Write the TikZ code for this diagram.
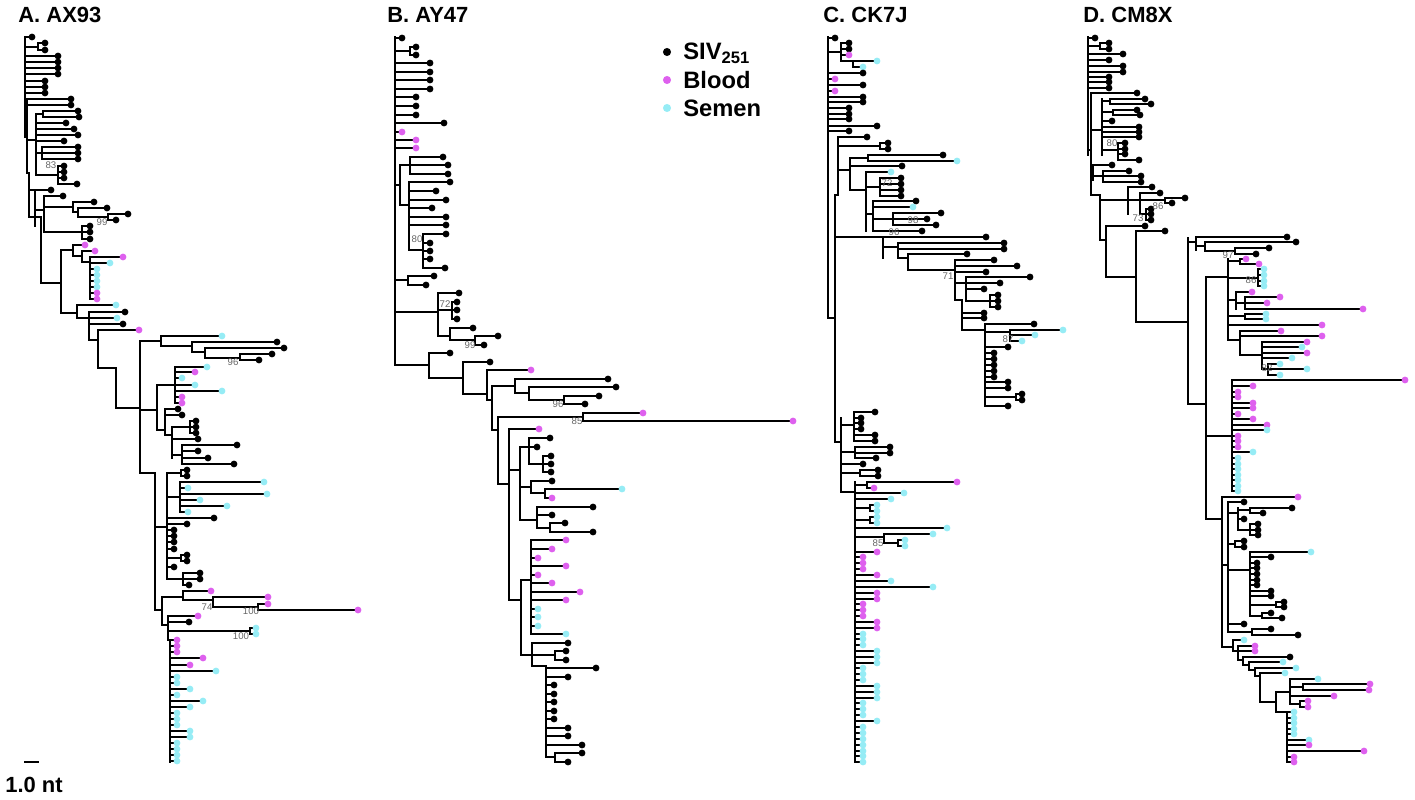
\documentclass[tikz,border=0pt]{standalone}
\usepackage{fontspec}
\setmainfont{Liberation Sans}
\definecolor{siv}{RGB}{0,0,0}
\definecolor{blood}{RGB}{222,96,238}
\definecolor{semen}{RGB}{150,236,245}
\newcommand{\drawtips}[1]{\foreach \px/\tx/\ty/\col in {#1}{\draw[branch] (\px,\ty) -- (\tx-4,\ty); \fill[\col] (\tx,\ty) circle (1.95pt);}}
\newcommand{\drawvert}[1]{\foreach \vx/\va/\vb in {#1}{\draw[branch] (\vx,\va) -- (\vx,\vb);}}
\newcommand{\drawhorz}[1]{\foreach \ha/\hb/\hy in {#1}{\draw[branch] (\ha,\hy) -- (\hb,\hy);}}
\begin{document}
\begin{tikzpicture}[x=0.02cm, y=-0.02cm,
  branch/.style={line width=0.75pt, line cap=rect},
  boot/.style={font=\fontsize{5.5}{5.5}\selectfont, text=black!60, inner sep=0pt},
  title/.style={font=\fontsize{12.5}{14}\selectfont\bfseries, anchor=west, inner sep=0pt},
  legtext/.style={font=\fontsize{13.5}{15}\selectfont\bfseries, anchor=west, inner sep=0pt}]
\useasboundingbox (0,0) rectangle (1415,800);

\node[title] (ta) at (18,15) {A. AX93};
\node[title] (tb) at (387,15) {B. AY47};
\node[title] (tc) at (823,15) {C. CK7J};
\node[title] (td) at (1083,15) {D. CM8X};

% legend
\fill[siv] (667,52) circle (2.3pt);
\fill[blood] (667,80) circle (2.3pt);
\fill[semen] (667,108) circle (2.3pt);
\node[legtext] (lsiv) at (683,53) {SIV\textsubscript{251}};
\node[legtext] (lblood) at (683,80) {Blood};
\node[legtext] (lsemen) at (683,108) {Semen};

% scale
\draw[branch] (25,762) -- (38,762);
\node[font=\fontsize{12.5}{14}\selectfont\bfseries, anchor=west, inner sep=0pt] (scale) at (5,785) {1.0 nt};

% tree A
\drawvert{25/37/137, 38/43/50, 27/99/173, 36/114/175, 43/111/117, 42/147/159, 58/166/184, 29/173/217, 35/190/226, 44/196/232, 73/202/212, 78/208/217, 108/214/220, 82/226/239, 41/217/283, 61/250/313, 73/245/256, 82/251/262, 90/257/299, 77/305/318, 89/312/340, 98/330/368, 116/368/408, 140/341/473, 161/336/346, 192/342/352, 205/348/358, 240/354/360, 157/385/430, 175/367/403, 165/409/435, 172/427/458, 190/421/433, 182/445/464, 155/473/610, 167/473/579, 181/470/476, 180/482/512, 181/555/561, 183/573/585, 162/597/625, 183/591/600, 213/597/607, 258/604/610, 168/616/640, 250/628/634, 170/640/762}
\drawhorz{25/27/137, 25/38/47, 27/36/140, 27/29/173, 36/43/114, 36/42/153, 36/58/175, 29/35/190, 29/41/217, 35/44/210, 44/73/207, 73/78/212, 78/108/217, 44/82/232, 41/61/283, 61/73/250, 73/82/256, 82/90/262, 61/77/313, 77/89/318, 89/98/340, 98/116/368, 116/140/408, 140/161/341, 161/192/346, 192/205/352, 205/240/358, 140/157/410, 157/175/385, 157/165/430, 165/172/435, 172/190/427, 172/182/455, 140/155/473, 155/167/527, 155/162/610, 167/181/473, 167/180/497, 167/181/558, 167/183/579, 162/183/597, 183/213/600, 213/258/607, 162/168/625, 168/250/631, 168/170/640}
\drawtips{25/32/37/siv, 38/45/43/siv, 38/45/50/siv, 25/58/56/siv, 25/58/62/siv, 25/58/68/siv, 25/58/74/siv, 25/45/81/siv, 25/45/87/siv, 25/45/93/siv,
  27/71/99/siv, 27/71/105/siv, 43/78/111/siv, 43/79/117/siv, 36/66/123/siv, 36/74/129/siv, 36/78/135/siv, 36/64/141/siv, 42/78/147/siv, 42/78/153/siv, 42/78/159/siv, 58/64/166/siv, 58/64/172/siv, 58/64/178/siv, 58/77/184/siv,
  35/51/190/siv, 44/63/196/siv, 73/94/202/siv, 78/107/208/siv, 108/128/214/siv, 108/116/220/siv, 82/90/226/siv, 82/90/232/siv, 82/90/239/siv,
  73/85/245/blood, 82/95/251/blood, 90/123/257/blood, 90/110/263/semen, 90/97/269/semen, 90/97/275/semen, 90/97/281/semen, 90/97/287/semen, 90/97/293/blood, 90/97/299/blood,
  77/116/305/semen, 89/125/312/siv, 89/117/318/semen, 89/123/324/siv, 98/139/330/blood,
  161/222/336/semen, 192/277/342/siv, 205/284/348/siv, 240/272/354/siv, 240/259/360/siv,
  175/207/367/semen, 175/195/372/blood, 175/182/378/semen, 175/195/385/semen, 175/222/391/semen, 175/182/397/blood, 175/182/403/blood,
  165/178/409/siv, 165/182/415/siv, 190/196/421/siv, 190/196/427/siv, 190/196/433/siv, 172/198/439/siv, 182/237/445/siv, 182/198/451/siv, 182/208/458/siv, 182/234/464/siv,
  181/187/470/siv, 181/187/476/siv, 180/264/482/semen, 180/188/488/semen, 180/267/494/semen, 180/200/500/semen, 180/227/506/semen, 180/188/512/semen, 167/214/518/siv, 167/187/524/siv, 167/174/530/siv, 167/174/536/siv, 167/174/542/siv, 167/174/549/siv, 181/187/555/siv, 181/187/561/siv, 167/174/567/siv, 183/200/573/siv, 183/200/579/siv, 183/189/585/siv,
  183/211/591/blood, 213/268/597/blood, 258/268/604/blood, 258/358/610/blood,
  168/198/616/blood, 168/189/622/siv, 250/256/628/semen, 250/256/634/semen,
  170/177/640/blood, 170/177/646/blood, 170/177/652/blood, 170/203/658/blood, 170/190/665/blood, 170/216/671/semen, 170/177/677/semen, 170/177/683/semen, 170/190/689/semen, 170/177/695/semen, 170/203/701/semen, 170/190/707/semen, 170/177/713/semen, 170/177/719/semen, 170/177/725/semen, 170/190/731/semen, 170/190/737/semen, 170/177/743/semen, 170/177/749/semen, 170/177/755/semen, 170/177/761/semen}
\node[boot] (ba1) at (51,165) {83};
\node[boot] (ba2) at (102,222) {99};
\node[boot] (ba3) at (233,362) {96};
\node[boot] (ba4) at (207,607) {74};
\node[boot] (ba5) at (251,611) {100};
\node[boot] (ba6) at (241,636) {100};

% tree B
\drawvert{395/37/365, 410/47/55, 400/165/205, 410/157/174, 409/182/250, 423/234/268, 408/276/285, 438/293/336, 452/302/319, 450/328/340, 475/336/345, 429/353/378, 463/362/394, 487/370/400, 492/386/430, 515/379/393, 529/387/400, 564/396/404, 498/417/484, 583/413/421, 509/429/600, 520/447/520, 529/438/464, 543/456/472, 531/481/493, 545/489/498, 537/507/528, 550/523/532, 521/580/655, 531/540/634, 532/643/666, 555/651/660, 546/666/757, 555/753/762}
\drawhorz{395/410/51, 395/400/185, 400/410/165, 400/409/205, 409/423/250, 395/408/280, 395/438/312, 438/452/310, 438/450/336, 450/475/340, 395/429/365, 429/463/378, 463/487/394, 487/492/400, 492/515/386, 515/529/393, 529/564/400, 492/498/430, 498/583/417, 498/509/484, 509/520/470, 520/529/447, 529/543/464, 520/531/487, 531/545/493, 520/537/520, 537/550/528, 509/521/600, 521/531/580, 521/532/655, 532/555/655, 532/546/666, 546/555/757}
\drawtips{395/402/38/siv, 410/416/47/siv, 410/416/55/siv, 395/430/63/siv, 395/430/72/siv, 395/430/80/siv, 395/430/89/siv, 395/416/97/siv, 395/416/106/siv, 395/416/115/siv, 395/444/123/siv, 395/402/132/blood, 395/416/140/blood, 395/416/148/blood,
  410/443/157/siv, 410/448/165/siv, 410/448/174/siv, 409/450/182/siv, 409/436/191/siv, 409/446/200/siv, 409/432/208/siv, 409/446/217/siv, 409/446/225/siv, 423/446/234/siv, 423/430/243/siv, 423/430/251/siv, 423/430/259/siv, 423/445/268/siv,
  408/434/276/siv, 408/426/285/siv,
  438/459/293/siv, 452/457/302/siv, 452/457/310/siv, 452/457/319/siv, 450/473/328/siv, 475/498/336/siv, 475/484/345/siv,
  429/450/353/siv, 463/490/362/siv, 487/531/370/blood, 515/608/379/siv, 529/616/387/siv, 564/599/396/siv, 564/585/404/siv, 583/643/413/blood, 583/793/421/blood,
  509/539/429/blood, 529/550/438/siv, 529/537/447/siv, 543/551/456/siv, 543/551/464/siv, 543/551/472/siv, 531/552/481/siv, 545/622/489/semen, 545/552/498/blood, 537/593/507/siv, 537/552/515/siv, 550/565/523/siv, 550/593/532/siv,
  531/566/540/blood, 531/552/549/blood, 531/538/558/blood, 531/566/566/blood, 531/538/575/blood, 531/552/583/blood, 531/580/592/blood, 531/566/600/blood, 531/538/609/semen, 531/538/617/semen, 531/538/626/semen, 531/566/634/semen,
  532/568/643/siv, 555/566/651/siv, 555/566/660/siv, 546/596/668/siv, 546/568/677/siv, 546/554/685/siv, 546/554/694/siv, 546/554/702/siv, 546/554/711/siv, 546/554/719/siv, 546/568/728/siv, 546/568/736/siv, 546/582/745/siv, 555/582/753/siv, 555/568/762/siv}
\node[boot] (bb1) at (417,239) {80};
\node[boot] (bb2) at (445,304) {72};
\node[boot] (bb3) at (470,345) {99};
\node[boot] (bb4) at (558,404) {96};
\node[boot] (bb5) at (577,421) {85};

% tree C
\drawvert{828/37/318, 841/43/61, 853/61/67, 835/195/442, 838/137/195, 880/143/149, 850/158/190, 868/155/161, 866/172/231, 880/178/196, 873/201/231, 893/213/225, 883/237/258, 898/243/258, 908/254/270, 955/260/300, 966/277/301, 990/295/307, 962/300/330, 985/324/406, 1010/330/341, 1016/394/400,
  841/418/492, 854/412/441, 855/447/458, 860/470/476, 855/482/762, 867/482/488, 870/505/511, 870/517/523, 884/534/543, 898/540/546}
\drawhorz{828/841/52, 841/853/61, 828/835/318, 835/838/195, 838/880/146, 838/850/170, 850/868/158, 850/866/190, 866/880/187, 866/873/214, 873/893/219, 835/883/237, 883/898/247, 898/908/258, 908/955/270, 955/966/283, 966/990/301, 955/962/300, 962/985/330, 985/1010/332, 985/1016/397,
  835/841/442, 841/854/425, 841/855/452, 841/860/473, 841/855/492, 855/867/485, 855/870/508, 855/870/520, 855/884/537, 884/898/543}
\drawtips{828/835/38/siv, 841/849/43/siv, 841/849/49/siv, 841/849/55/blood, 853/877/61/semen, 853/863/67/semen, 828/863/73/siv, 828/835/79/blood, 828/863/85/siv, 828/835/91/blood, 828/863/97/siv, 828/863/102/siv, 828/849/108/siv, 828/849/114/siv, 828/849/119/siv, 828/877/126/siv, 828/849/131/siv,
  838/867/137/siv, 880/888/143/siv, 880/888/149/siv, 868/943/155/siv, 868/957/161/semen, 850/902/166/siv, 866/891/172/semen, 880/901/178/siv, 880/901/184/siv, 880/901/190/siv, 880/901/196/siv, 873/916/201/siv, 873/913/207/semen, 893/941/213/siv, 893/927/219/siv, 893/936/225/siv, 873/922/231/siv,
  883/986/237/siv, 898/1004/243/siv, 898/1004/249/siv, 908/967/254/siv, 955/994/260/siv, 955/1017/266/siv, 955/986/272/siv, 966/1030/277/siv, 966/1000/283/siv, 966/984/289/siv, 990/998/295/siv, 990/998/301/siv, 990/998/307/siv, 962/984/313/siv, 962/984/318/siv, 985/1034/324/siv, 1010/1063/330/semen, 1010/1035/335/semen, 1010/1022/341/semen, 985/1008/347/siv, 985/994/353/siv, 985/994/359/siv, 985/994/365/siv, 985/994/371/siv, 985/994/377/siv, 985/1008/382/siv, 985/1008/388/siv, 1016/1022/394/siv, 1016/1022/400/siv, 985/1008/406/siv,
  854/875/412/siv, 854/861/418/siv, 854/861/423/siv, 854/861/429/siv, 854/875/435/siv, 854/875/441/siv, 855/890/447/siv, 855/890/453/siv, 855/876/458/siv, 841/863/464/siv, 860/878/470/siv, 860/878/476/siv,
  867/957/482/blood, 867/874/488/blood, 855/904/493/semen, 855/891/499/semen, 870/877/505/semen, 870/877/511/semen, 870/877/517/semen, 870/877/523/semen, 855/947/528/semen, 884/933/534/semen, 898/905/540/semen, 898/905/546/semen,
  855/877/552/blood, 855/863/557/blood, 855/863/563/blood, 855/863/569/blood, 855/877/575/blood, 855/891/581/semen, 855/933/587/semen, 855/877/593/blood, 855/877/599/blood, 855/863/604/blood, 855/863/610/blood, 855/863/616/blood, 855/877/622/blood, 855/877/628/blood,
  855/863/634/semen, 855/863/639/semen, 855/863/645/semen, 855/877/651/semen, 855/877/657/semen, 855/877/663/semen, 855/863/668/semen, 855/863/674/semen, 855/863/680/semen, 855/877/686/semen, 855/877/692/semen, 855/877/698/semen, 855/863/703/semen, 855/863/709/semen, 855/863/715/semen, 855/877/721/semen, 855/863/727/semen, 855/863/733/semen, 855/863/739/semen, 855/863/745/semen, 855/863/751/semen, 855/863/756/semen, 855/863/762/semen}
\node[boot] (bc1) at (887,183) {72};
\node[boot] (bc2) at (913,220) {98};
\node[boot] (bc3) at (894,232) {96};
\node[boot] (bc4) at (948,276) {71};
\node[boot] (bc5) at (1008,339) {87};
\node[boot] (bc6) at (878,543) {85};

% tree D
\drawvert{1088/37/155, 1100/43/49, 1091/93/195, 1102/99/155, 1110/99/104, 1113/110/115, 1118/143/160, 1093/165/180, 1103/171/182, 1100/195/240, 1128/187/214, 1140/193/214, 1165/198/203, 1146/209/220, 1106/226/277, 1136/231/322, 1188/238/404, 1196/237/250, 1205/242/251, 1235/248/254,
  1206/277/519, 1228/259/340, 1240/259/264, 1258/269/286, 1236/292/309, 1245/297/309, 1245/314/319, 1240/331/355, 1262/342/369, 1268/364/375, 1232/380/491,
  1222/497/647, 1228/502/632, 1238/508/530, 1250/508/513, 1250/524/535, 1235/541/547, 1250/552/616, 1276/602/607, 1262/613/618, 1252/629/635,
  1233/640/651, 1238/646/660, 1243/657/665, 1249/662/670, 1255/668/676, 1260/673/702, 1276/692/712, 1290/679/704, 1303/684/690, 1300/701/707, 1287/712/762}
\drawhorz{1088/1100/46, 1088/1091/150, 1091/1102/130, 1102/1110/101, 1102/1113/112, 1102/1118/150, 1091/1093/175, 1093/1103/176, 1091/1100/195, 1100/1128/200, 1128/1140/200, 1140/1165/200, 1140/1146/214, 1100/1106/240, 1106/1136/277, 1136/1188/322, 1188/1196/242, 1196/1205/246, 1205/1235/251,
  1188/1206/404, 1206/1228/277, 1228/1240/261, 1228/1258/278, 1228/1236/300, 1236/1245/303, 1228/1245/316, 1228/1240/340, 1240/1262/355, 1262/1268/369, 1206/1232/436,
  1206/1222/519, 1222/1228/565, 1228/1238/513, 1238/1250/510, 1238/1250/530, 1228/1235/544, 1228/1250/570, 1250/1276/605, 1250/1262/616, 1228/1252/632,
  1222/1233/647, 1233/1238/651, 1238/1243/660, 1243/1249/665, 1249/1255/670, 1255/1260/676, 1260/1276/702, 1276/1290/692, 1290/1303/687, 1290/1300/704, 1276/1287/712}
\drawtips{1088/1095/38/siv, 1100/1109/43/siv, 1100/1109/49/siv, 1088/1123/54/siv, 1088/1109/60/siv, 1088/1123/66/siv, 1088/1123/72/siv, 1088/1109/77/siv, 1088/1109/82/siv, 1088/1109/88/siv,
  1091/1137/93/siv, 1110/1145/99/siv, 1110/1151/104/siv, 1113/1137/110/siv, 1113/1140/115/siv, 1102/1112/121/siv, 1102/1139/127/siv, 1102/1139/132/siv, 1102/1139/137/siv, 1118/1125/143/siv, 1118/1125/149/siv, 1118/1125/154/siv, 1118/1139/160/siv,
  1093/1112/165/siv, 1103/1129/171/siv, 1103/1141/176/siv, 1103/1141/182/siv,
  1128/1152/187/siv, 1140/1160/193/siv, 1165/1185/198/siv, 1165/1172/203/siv, 1146/1151/209/siv, 1146/1151/214/siv, 1146/1151/220/siv, 1106/1145/226/siv, 1136/1165/231/siv,
  1196/1287/237/siv, 1205/1296/242/siv, 1235/1269/248/siv, 1235/1256/254/siv,
  1240/1246/259/blood, 1240/1259/264/blood, 1258/1264/269/semen, 1258/1264/275/semen, 1258/1264/281/semen, 1258/1264/286/semen, 1236/1252/292/blood, 1245/1280/297/blood, 1245/1267/303/blood, 1245/1363/309/blood, 1245/1266/314/semen, 1245/1266/319/semen, 1228/1322/325/blood, 1240/1281/331/blood, 1240/1322/336/blood, 1262/1307/342/blood, 1262/1302/347/semen, 1262/1307/353/blood, 1262/1292/358/semen, 1268/1280/364/semen, 1268/1307/369/semen, 1268/1280/375/semen,
  1232/1405/380/blood, 1232/1253/386/blood, 1232/1238/392/blood, 1232/1238/397/blood, 1232/1253/403/blood, 1232/1253/408/blood, 1232/1238/414/blood, 1232/1253/419/blood, 1232/1267/425/blood, 1232/1267/430/semen, 1232/1238/436/blood, 1232/1238/441/blood, 1232/1238/447/blood, 1232/1253/452/semen, 1232/1238/458/semen, 1232/1238/464/semen, 1232/1238/469/semen, 1232/1238/475/semen, 1232/1238/480/semen, 1232/1238/486/semen, 1232/1238/491/semen,
  1222/1298/497/blood, 1228/1244/502/siv, 1250/1292/508/siv, 1250/1263/513/siv, 1238/1244/519/siv, 1250/1258/524/siv, 1250/1258/530/siv, 1250/1258/535/siv, 1235/1244/541/siv, 1235/1244/547/siv, 1250/1311/552/semen, 1250/1271/557/siv, 1250/1257/563/siv, 1250/1257/568/siv, 1250/1257/574/siv, 1250/1257/580/siv, 1250/1257/585/siv, 1250/1271/591/siv, 1250/1271/596/siv, 1276/1284/602/siv, 1276/1284/607/siv, 1262/1271/613/siv, 1262/1282/618/siv, 1228/1244/624/siv, 1252/1271/629/siv, 1252/1298/635/siv,
  1233/1244/640/semen, 1238/1255/646/blood, 1238/1255/651/blood, 1243/1290/657/siv, 1249/1283/662/semen, 1255/1296/668/semen, 1260/1285/673/semen, 1290/1318/679/semen, 1303/1370/684/blood, 1303/1369/690/blood, 1290/1334/696/blood, 1300/1308/701/blood, 1300/1308/707/blood,
  1287/1294/712/semen, 1287/1294/718/semen, 1287/1294/723/semen, 1287/1294/729/semen, 1287/1294/734/semen, 1287/1309/740/semen, 1287/1309/745/blood, 1287/1364/751/blood, 1287/1294/757/blood, 1287/1294/762/blood}
\node[boot] (bd1) at (1112,143) {80};
\node[boot] (bd2) at (1158,206) {86};
\node[boot] (bd3) at (1138,218) {73};
\node[boot] (bd4) at (1228,255) {97};
\node[boot] (bd5) at (1251,280) {86};
\node[boot] (bd6) at (1267,368) {82};
\end{tikzpicture}
\end{document}
